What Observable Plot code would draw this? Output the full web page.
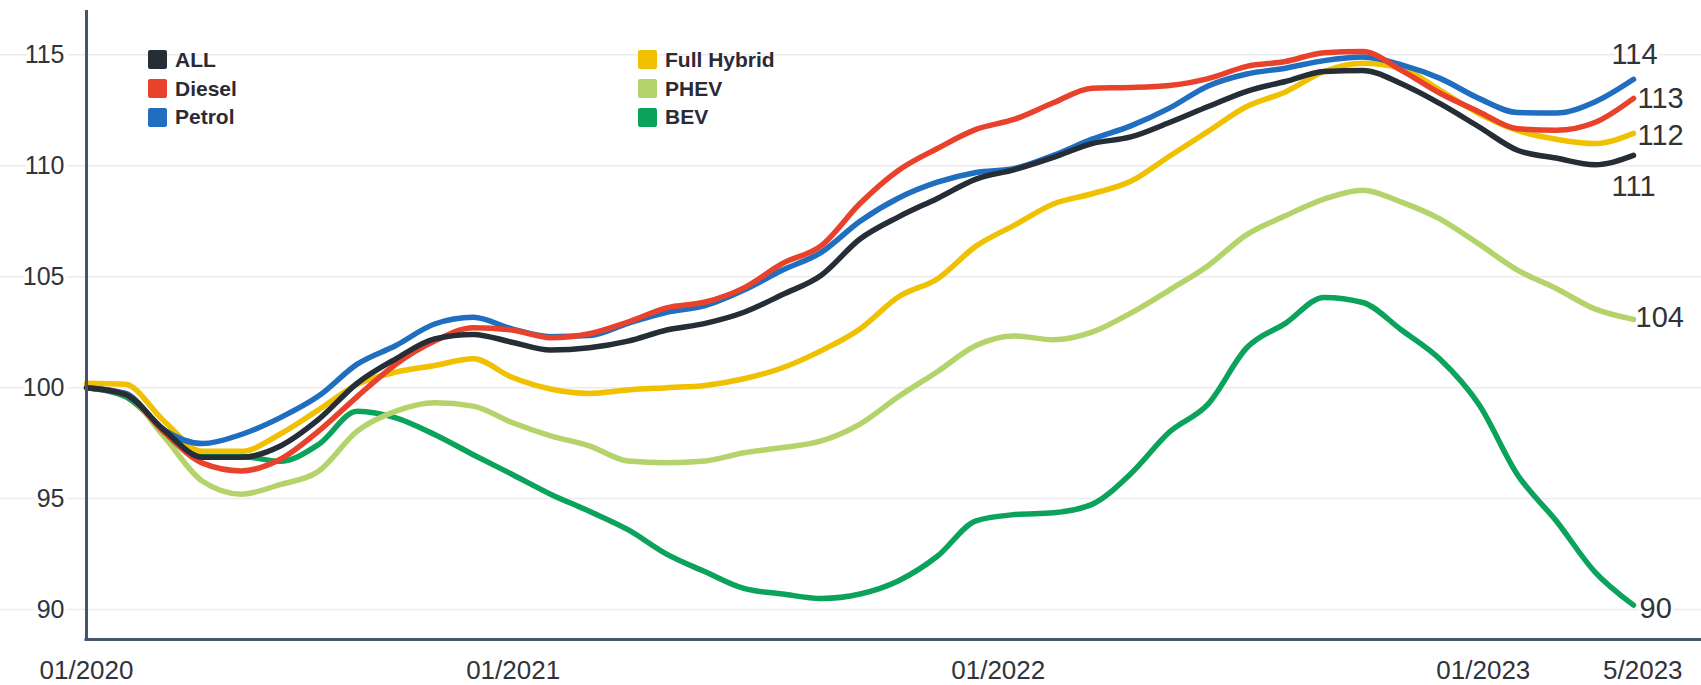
<!DOCTYPE html>
<html>
<head>
<meta charset="utf-8">
<script src="https://cdn.jsdelivr.net/npm/d3@7"></script>
<script src="https://cdn.jsdelivr.net/npm/@observablehq/plot@0.6"></script>
<style>
  html, body { margin: 0; padding: 0; background: #ffffff; }
  #wrap { position: relative; width: 1701px; height: 685px; font-family: "Liberation Sans", Arial, sans-serif; }
  #wrap svg { position: absolute; left: 0; top: 0; }
  .legend { position: absolute; font-weight: bold; font-size: 21px; color: #2b2a35; }
  .legend .item { display: flex; align-items: center; height: 28.7px; }
  .legend .sw { width: 19px; height: 19px; border-radius: 2px; margin-right: 8px; flex: none; }
</style>
</head>
<body>
<div id="wrap"></div>
<script>
// ---------- data ----------
const series = ["ALL", "Diesel", "Petrol", "Full Hybrid", "PHEV", "BEV"];
const seriesColors = ["#252d36", "#e8412c", "#1f6ebf", "#efc100", "#b4d36a", "#0ba35b"];
const endLabels = ["111", "113", "114", "112", "104", "90"];

// observation period (equally spaced readings)
const periodStart = "2020-02-15";
const periodEnd = "2023-04-24";

const allIdx = [100.0, 99.7, 98.1, 96.86, 96.86, 97.36, 98.57, 100.2, 101.3, 102.2,
  102.4, 102.05, 101.7, 101.8, 102.1, 102.6, 102.9, 103.4, 104.2, 105.07,
  106.7, 107.7, 108.53, 109.4, 109.83, 110.38, 111.0, 111.3, 111.95, 112.67,
  113.36, 113.8, 114.25, 114.3, 113.7, 112.8, 111.76, 110.7, 110.35, 110.05,
  110.47];
const diesel = [100.0, 99.7, 98.0, 96.6, 96.25, 96.76, 98.04, 99.6, 101.06, 102.1,
  102.7, 102.6, 102.25, 102.43, 102.96, 103.6, 103.86, 104.5, 105.6, 106.4,
  108.3, 109.8, 110.78, 111.64, 112.1, 112.84, 113.5, 113.53, 113.62, 113.93,
  114.48, 114.7, 115.1, 115.15, 114.3, 113.27, 112.44, 111.67, 111.6, 111.95,
  113.04];
const petrol = [100.0, 99.75, 98.1, 97.48, 97.89, 98.64, 99.62, 101.06, 101.9, 102.87,
  103.17, 102.65, 102.3, 102.35, 102.9, 103.4, 103.7, 104.4, 105.3, 106.1,
  107.5, 108.55, 109.26, 109.7, 109.88, 110.47, 111.2, 111.8, 112.6, 113.6,
  114.14, 114.4, 114.74, 114.9, 114.55, 113.94, 113.04, 112.4, 112.38, 112.88,
  113.9];
const fullHybrid = [100.2, 100.15, 98.5, 97.13, 97.13, 97.9, 99.0, 100.15, 100.7, 101.0,
  101.3, 100.47, 99.94, 99.74, 99.9, 100.0, 100.1, 100.4, 100.9, 101.67,
  102.65, 104.1, 104.9, 106.38, 107.33, 108.28, 108.74, 109.3, 110.43, 111.55,
  112.67, 113.33, 114.25, 114.62, 114.4, 113.4, 112.36, 111.6, 111.2, 111.0,
  111.46];
const phev = [100.0, 99.7, 97.8, 95.78, 95.2, 95.63, 96.23, 98.04, 98.94, 99.32,
  99.17, 98.43, 97.83, 97.38, 96.7, 96.62, 96.7, 97.07, 97.3, 97.6,
  98.36, 99.6, 100.72, 101.9, 102.33, 102.16, 102.5, 103.36, 104.4, 105.5,
  106.9, 107.75, 108.5, 108.9, 108.36, 107.6, 106.48, 105.3, 104.47, 103.55,
  103.08];
const bev = [100.0, 99.6, 98.1, 96.9, 96.9, 96.68, 97.44, 98.94, 98.64, 97.89,
  96.98, 96.1, 95.2, 94.43, 93.6, 92.5, 91.7, 90.95, 90.7, 90.5,
  90.7, 91.3, 92.4, 94.0, 94.28, 94.36, 94.74, 96.12, 98.0, 99.26,
  101.8, 102.9, 104.07, 103.84, 102.6, 101.28, 99.25, 96.08, 94.0, 91.7,
  90.2];

const yTicks = [90, 95, 100, 105, 110, 115];
const xTickDates = [periodStart, "2021-01-01", "2022-01-01", "2023-01-01", "2023-05-01"];
const xTickLabels = ["01/2020", "01/2021", "01/2022", "01/2023", "5/2023"];

// ---------- build table ----------
const seriesValues = [allIdx, diesel, petrol, fullHybrid, phev, bev];
const t0 = new Date(periodStart), t1 = new Date(periodEnd);
const n = allIdx.length;
const dates = allIdx.map((_, k) => new Date(+t0 + (t1 - t0) * k / (n - 1)));
// draw order: BEV at the bottom, ALL on top
const drawOrder = [5, 4, 3, 2, 1, 0];
const rows = drawOrder.flatMap(j => seriesValues[j].map((v, k) => ({series: series[j], date: dates[k], value: v})));
const lastPoints = series.map((s, j) => ({series: s, date: dates[n - 1], value: seriesValues[j][n - 1], label: endLabels[j]}));

const tickDateObjs = xTickDates.map(d => new Date(d));
const tickLabelMap = new Map(tickDateObjs.map((d, i) => [+d, xTickLabels[i]]));

// label placement styles (offsets from each line's end)
const labelStyle = {
  "ALL":         {dx: 0, dy: 31, textAnchor: "middle"},
  "Diesel":      {dx: 4, dy: 0.5, textAnchor: "start"},
  "Petrol":      {dx: 1, dy: -25, textAnchor: "middle"},
  "Full Hybrid": {dx: 4, dy: 2.5, textAnchor: "start"},
  "PHEV":        {dx: 2, dy: -1.5, textAnchor: "start"},
  "BEV":         {dx: 6, dy: 3.5, textAnchor: "start"}
};

const axisColor = "#46556e";
const textColor = "#30343a";

const chart = Plot.plot({
  width: 1701,
  height: 685,
  marginLeft: 86,
  marginRight: 68,
  marginTop: 10,
  marginBottom: 46,
  style: {fontFamily: "'Liberation Sans', Arial, sans-serif", background: "white", overflow: "visible"},
  x: {type: "utc", domain: [t0, t1]},
  y: {domain: [88.65, 117]},
  color: {domain: series, range: seriesColors},
  marks: [
    Plot.ruleY(yTicks, {stroke: "#ebebeb", strokeWidth: 1.5, insetLeft: -86, insetRight: -68}),
    Plot.axisY(yTicks, {tickSize: 0, tickPadding: 22, fontSize: 25, fill: textColor,
      textStroke: "white", textStrokeWidth: 8, label: null}),
    Plot.axisX(tickDateObjs, {tickSize: 0, tickPadding: 21, fontSize: 26, fill: textColor,
      tickFormat: d => tickLabelMap.get(+d), label: null}),
    Plot.line(rows, {x: "date", y: "value", z: "series", stroke: "series", strokeWidth: 5.5,
      curve: "monotone-x", strokeLinejoin: "round", strokeLinecap: "round"}),
    ...lastPoints.map(p => Plot.text([p], {
      x: "date", y: "value", text: "label",
      dx: labelStyle[p.series].dx, dy: labelStyle[p.series].dy,
      textAnchor: labelStyle[p.series].textAnchor,
      fontSize: 29, fill: textColor, stroke: "white", strokeWidth: 6, paintOrder: "stroke"
    })),
    Plot.ruleX([t0], {stroke: axisColor, strokeWidth: 3}),
    Plot.ruleY([88.65], {stroke: axisColor, strokeWidth: 3, insetLeft: -1.5, insetRight: -68})
  ]
});

const wrap = document.getElementById("wrap");
wrap.appendChild(chart);

// legend (two columns inside the plot area)
const legendCols = [[0, 1, 2], [3, 4, 5]];
const legendLeft = [148, 638];
legendCols.forEach((col, c) => {
  const box = document.createElement("div");
  box.className = "legend";
  box.style.left = legendLeft[c] + "px";
  box.style.top = "45.5px";
  col.forEach(j => {
    const item = document.createElement("div");
    item.className = "item";
    const sw = document.createElement("span");
    sw.className = "sw";
    sw.style.background = seriesColors[j];
    const tx = document.createElement("span");
    tx.textContent = series[j];
    item.appendChild(sw);
    item.appendChild(tx);
    box.appendChild(item);
  });
  wrap.appendChild(box);
});
</script>
</body>
</html>
